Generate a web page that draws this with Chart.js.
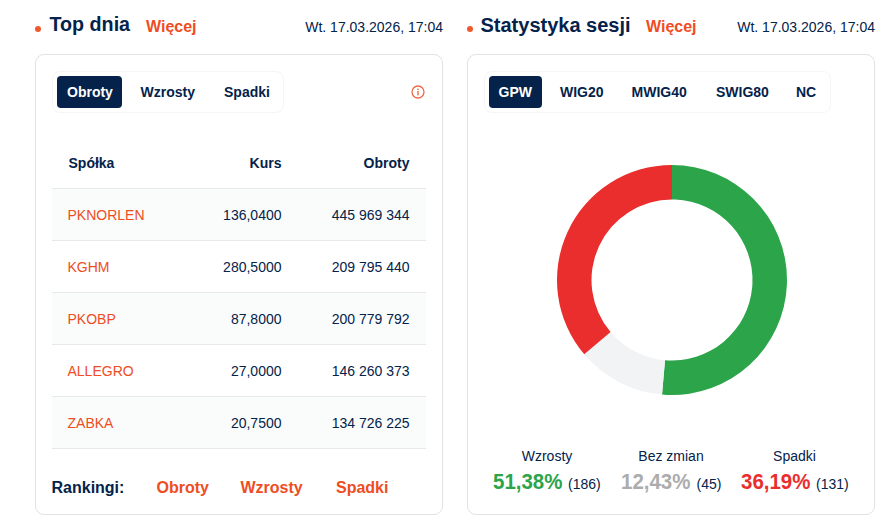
<!DOCTYPE html>
<html><head><meta charset="utf-8">
<script src="https://cdn.jsdelivr.net/npm/chart.js@4"></script>
<style>
html,body{margin:0;padding:0;background:#fff;width:891px;height:526px;overflow:hidden;font-family:"Liberation Sans",Arial,sans-serif;color:#04224a}
.a{position:absolute;white-space:nowrap;line-height:1}
.card{position:absolute;top:54px;height:461px;box-sizing:border-box;border:1px solid #e2e2e2;border-radius:9px;background:#fff}
.tabs{position:absolute;top:71px;height:42px;box-sizing:border-box;border:1px solid #f6f6f6;border-radius:8px}
.on{position:absolute;top:76px;height:32px;background:#04224a;border-radius:4px}
.t{font-size:14px;font-weight:bold}
.o{color:#ee4d23}
.row{position:absolute;left:52px;width:374px;height:51px;border-bottom:1px solid #e6e8eb;box-sizing:content-box}
.dot{position:absolute;width:6px;height:6px;border-radius:50%;background:#ee5a2c;top:25.5px}
canvas{display:block}
</style></head><body>
<div class="dot" style="left:35px"></div>
<div class="dot" style="left:467px"></div>
<div class="a" style="left:49.5px;top:15px;font-size:19.7px;font-weight:bold">Top dnia</div>
<div class="a o" style="left:146px;top:19px;font-size:16px;font-weight:bold">Więcej</div>
<div class="a" style="right:448px;top:20px;font-size:14px">Wt. 17.03.2026, 17:04</div>
<div class="a" style="left:480.5px;top:15px;font-size:20px;font-weight:bold">Statystyka sesji</div>
<div class="a o" style="left:646px;top:19px;font-size:16px;font-weight:bold">Więcej</div>
<div class="a" style="right:16px;top:20px;font-size:14px">Wt. 17.03.2026, 17:04</div>

<div class="card" style="left:35px;width:408px"></div>
<div class="card" style="left:467px;width:408px"></div>

<div class="tabs" style="left:52px;width:232px"></div>
<div class="on" style="left:57px;width:65px"></div>
<div class="a t" style="left:67px;top:85px;color:#fff">Obroty</div>
<div class="a t" style="left:140.5px;top:85px">Wzrosty</div>
<div class="a t" style="left:224px;top:85px">Spadki</div>
<svg class="a" style="left:411px;top:85px" width="14" height="14" viewBox="0 0 14 14"><circle cx="7" cy="7" r="6" fill="none" stroke="#ee6a45" stroke-width="1.3"/><rect x="6.3" y="6" width="1.4" height="4.4" fill="#ee6a45"/><rect x="6.3" y="3.6" width="1.4" height="1.4" fill="#ee6a45"/></svg>

<div class="tabs" style="left:484px;width:347px"></div>
<div class="on" style="left:489px;width:53px"></div>
<div class="a t" style="left:498.5px;top:85px;color:#fff">GPW</div>
<div class="a t" style="left:560px;top:85px">WIG20</div>
<div class="a t" style="left:631.5px;top:85px">MWIG40</div>
<div class="a t" style="left:716px;top:85px">SWIG80</div>
<div class="a t" style="left:796px;top:85px">NC</div>

<div class="a t" style="left:68.5px;top:156px">Spółka</div>
<div class="a t" style="right:609.5px;top:156px">Kurs</div>
<div class="a t" style="right:481.5px;top:156px">Obroty</div>
<div style="position:absolute;left:52px;top:188px;width:374px;height:1px;background:#e6e8eb"></div>
<div id="rows"></div>

<div class="a" style="left:51.5px;top:480px;font-size:16px;font-weight:bold">Rankingi:</div>
<div class="a o" style="left:156.5px;top:480px;font-size:16px;font-weight:bold">Obroty</div>
<div class="a o" style="left:240.5px;top:480px;font-size:16px;font-weight:bold">Wzrosty</div>
<div class="a o" style="left:336px;top:480px;font-size:16px;font-weight:bold">Spadki</div>

<div style="position:absolute;left:542px;top:150px;width:260px;height:260px"><canvas id="c" width="260" height="260"></canvas></div>
<div id="stats"></div>

<script>
const companies=["PKNORLEN","KGHM","PKOBP","ALLEGRO","ZABKA"];
const prices=["136,0400","280,5000","87,8000","27,0000","20,7500"];
const turnover=["445 969 344","209 795 440","200 779 792","146 260 373","134 726 225"];
const sessionLabels=["Wzrosty","Bez zmian","Spadki"];
const sessionCounts=[186,45,131];
const sessionPct=["51,38%","12,43%","36,19%"];
const sliceColors=["#2ca44a","#f2f3f5","#ea2e2e"];
const pctColors=["#2ca44a","#acacac","#ea2e2e"];
const labelX=[547,671,794.5];
const pctX=[[493,568],[621,696.5],[741,816]];

let h='';
companies.forEach((c,i)=>{
  const top=189+52*i, tt=top+19;
  h+=`<div class="row" style="top:${top}px;background:${i%2==0?'#fafcfb':'#fff'}"></div>`;
  h+=`<div class="a" style="left:67.5px;top:${tt}px;font-size:14px;color:#ee4d23">${c}</div>`;
  h+=`<div class="a" style="right:609.5px;top:${tt}px;font-size:14px">${prices[i]}</div>`;
  h+=`<div class="a" style="right:481.5px;top:${tt}px;font-size:14px">${turnover[i]}</div>`;
});
document.getElementById('rows').innerHTML=h;
let s='';
sessionLabels.forEach((l,i)=>{
  s+=`<div class="a" style="left:${labelX[i]}px;top:449px;font-size:14px;transform:translateX(-50%)">${l}</div>`;
  s+=`<div class="a" style="left:${pctX[i][0]}px;top:471px;font-size:22px;font-weight:bold;color:${pctColors[i]};transform:scaleX(0.93);transform-origin:left top">${sessionPct[i]}</div>`;
  s+=`<div class="a" style="left:${pctX[i][1]}px;top:477px;font-size:14px">(${sessionCounts[i]})</div>`;
});
document.getElementById('stats').innerHTML=s;

new Chart(document.getElementById('c'),{
  type:'doughnut',
  data:{labels:sessionLabels,datasets:[{data:sessionCounts,backgroundColor:sliceColors,borderWidth:0}]},
  options:{responsive:false,animation:false,cutout:'70%',radius:115,layout:{padding:0},
    plugins:{legend:{display:false},tooltip:{enabled:false}}}
});
</script>
</body></html>
